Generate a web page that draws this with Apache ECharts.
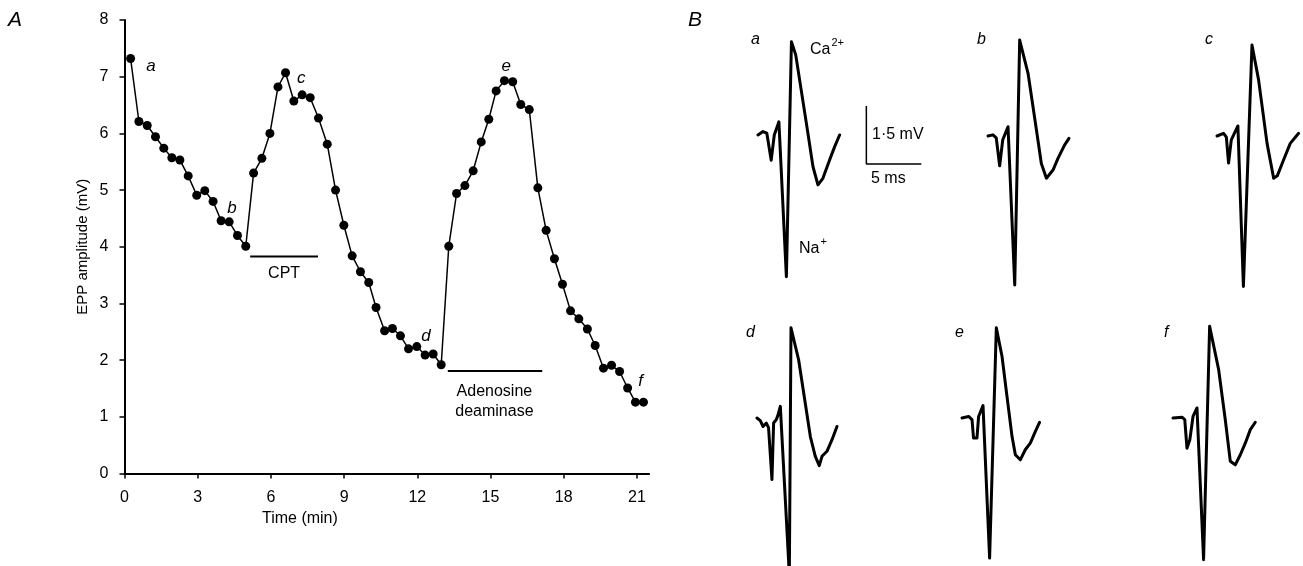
<!DOCTYPE html>
<html>
<head>
<meta charset="utf-8">
<title>EPP amplitude</title>
<script src="https://cdn.jsdelivr.net/npm/echarts@6/dist/echarts.min.js"></script>
<style>
  html, body { margin: 0; padding: 0; background: #fff; }
  #main { width: 1303px; height: 566px; }
</style>
</head>
<body>
<div id="main"></div>
<script>
// panel A: EPP amplitude against time
var timeMin = [0.25, 0.59, 0.93, 1.27, 1.61, 1.94, 2.27, 2.61, 2.96, 3.29, 3.63, 3.96, 4.29, 4.63, 4.97,
  5.29, 5.63, 5.96, 6.29, 6.6, 6.94, 7.28, 7.61, 7.95, 8.31, 8.65, 8.99, 9.33, 9.67, 10.01, 10.31,
  10.66, 10.98, 11.31, 11.64, 11.98, 12.32, 12.65, 12.98, 13.29, 13.61, 13.95, 14.29, 14.62, 14.93,
  15.23, 15.57, 15.91, 16.24, 16.59, 16.94, 17.28, 17.62, 17.95, 18.28, 18.62, 18.97, 19.29, 19.63,
  19.96, 20.29, 20.62, 20.94, 21.27];
var eppAmp = [7.32, 6.21, 6.14, 5.94, 5.74, 5.57, 5.53, 5.25, 4.91, 4.99, 4.80, 4.46, 4.44, 4.20, 4.01,
  5.30, 5.56, 6.00, 6.82, 7.07, 6.57, 6.68, 6.63, 6.27, 5.81, 5.00, 4.38, 3.84, 3.56, 3.37, 2.93,
  2.52, 2.56, 2.43, 2.20, 2.24, 2.09, 2.11, 1.92, 4.01, 4.94, 5.08, 5.34, 5.85, 6.25,
  6.75, 6.93, 6.91, 6.51, 6.42, 5.04, 4.29, 3.79, 3.34, 2.87, 2.73, 2.55, 2.26, 1.86,
  1.91, 1.80, 1.51, 1.26, 1.26];
var xTicks = [0, 3, 6, 9, 12, 15, 18, 21];

// drug application bars (min) and their level (mV)
var cptBar = [5.15, 7.93];
var cptLevel = 3.83;
var adaBar = [13.25, 17.12];
var adaLevel = 1.81;

// letters marking the sampled traces: [time, amplitude]
var markNames = ['a', 'b', 'c', 'd', 'e', 'f'];
var markPos = [[1.09, 7.19], [4.40, 4.68], [7.24, 6.97], [12.36, 2.43], [15.64, 7.19], [21.15, 1.62]];

// panel B: traces, [ms, mV] from the start of each sweep
var traceA = [[0, 0], [0.45, 0.09], [0.8, 0.05], [1.2, -0.65], [1.48, 0], [1.9, 0.34], [2.58, -3.66],
  [3.04, 2.41], [3.43, 2.07], [4.4, 0.3], [5.0, -0.82], [5.45, -1.29], [5.9, -1.12], [6.5, -0.65],
  [6.97, -0.3], [7.42, 0]];
var traceB = [[0, 0], [0.45, 0.03], [0.75, -0.05], [1.06, -0.77], [1.34, -0.1], [1.82, 0.24], [2.43, -3.85],
  [2.88, 2.48], [3.64, 1.62], [4.4, 0.16], [4.85, -0.71], [5.31, -1.09], [5.91, -0.88], [6.36, -0.58],
  [6.97, -0.23], [7.36, -0.06]];
var traceC = [[0, 0], [0.6, 0.07], [0.85, -0.03], [1.05, -0.7], [1.3, -0.1], [1.9, 0.26], [2.4, -3.89],
  [3.18, 2.35], [3.78, 1.45], [4.55, -0.19], [5.15, -1.09], [5.48, -1.03], [6.05, -0.62], [6.66, -0.19],
  [7.42, 0.07]];
var traceD = [[0, 0], [0.3, -0.07], [0.55, -0.22], [0.85, -0.13], [1.05, -0.25], [1.36, -1.59], [1.51, -0.13],
  [1.75, -0.04], [1.87, 0.04], [2.12, 0.3], [2.94, -4.05], [3.09, 2.33], [3.78, 1.51], [4.85, -0.48],
  [5.3, -0.99], [5.66, -1.23], [5.91, -0.99], [6.36, -0.86], [6.82, -0.56], [7.27, -0.22]];
var traceE = [[0, 0], [0.6, 0.04], [0.91, -0.04], [1.05, -0.52], [1.36, -0.52], [1.51, 0.04], [1.91, 0.32],
  [2.51, -3.62], [3.12, 2.33], [3.64, 1.59], [4.09, 0.56], [4.55, -0.48], [4.85, -0.95], [5.3, -1.08],
  [5.75, -0.82], [6.21, -0.65], [6.66, -0.35], [7.05, -0.11]];
var traceF = [[0, 0], [0.82, 0.02], [1.07, -0.04], [1.27, -0.78], [1.53, -0.56], [1.82, 0.04], [2.18, 0.26],
  [2.78, -3.66], [3.33, 2.37], [4.15, 1.25], [4.75, -0.04], [5.21, -1.12], [5.66, -1.21], [6.12, -0.95],
  [6.57, -0.65], [7.03, -0.3], [7.48, -0.11]];
var traces = [traceA, traceB, traceC, traceD, traceE, traceF];

// scale bar, drawn in trace a's coordinates: 1.5 mV by 5 ms
var scaleBar = [[9.85, 0.75], [9.85, -0.75], [14.85, -0.75]];

var FONT = '"Liberation Sans", Arial, Helvetica, sans-serif';
var chart = echarts.init(document.getElementById('main'));

// sweep origins on the page (px); each trace gets a hidden grid of equal scale
var origins = [[758, 135], [988, 136], [1217, 136], [757, 418], [962, 418], [1173, 418]];
var msMax = [16, 7.6, 7.6, 7.6, 7.6, 7.6];
var mvMin = [-4.6, -4.6, -4.6, -3.8, -3.8, -3.8];
var mvMax = 2.7;
var pxPerMs = 11, pxPerMv = 38.7;

var grids = [{ left: 124.5, top: 20, width: 21.5 * 24.4, height: 453.6 }];
var xAxes = [{
  type: 'value', gridIndex: 0, min: 0, max: 21.5,
  axisLine: { lineStyle: { color: '#000', width: 2 } },
  axisTick: { show: true, length: 5, lineStyle: { color: '#000', width: 1.5 }, customValues: xTicks },
  axisLabel: { color: '#000', fontSize: 16, fontFamily: FONT, margin: 16, customValues: xTicks },
  splitLine: { show: false }
}];
var yAxes = [{
  type: 'value', gridIndex: 0, min: 0, max: 8, interval: 1,
  name: 'EPP amplitude (mV)', nameLocation: 'middle', nameGap: 34,
  nameTextStyle: { color: '#000', fontSize: 15, fontFamily: FONT },
  axisLine: { lineStyle: { color: '#000', width: 2 } },
  axisTick: { show: true, length: 5, lineStyle: { color: '#000', width: 1.5 } },
  axisLabel: { color: '#000', fontSize: 16, fontFamily: FONT, margin: 16 },
  splitLine: { show: false }
}];

var series = [
  {
    type: 'line', xAxisIndex: 0, yAxisIndex: 0,
    data: timeMin.map(function (t, i) { return [t, eppAmp[i]]; }),
    symbol: 'circle', symbolSize: 9, showSymbol: true,
    itemStyle: { color: '#000' },
    lineStyle: { color: '#000', width: 1.5 },
    z: 3, animation: false
  },
  {
    type: 'line', xAxisIndex: 0, yAxisIndex: 0, symbol: 'none',
    data: [[cptBar[0], cptLevel], [cptBar[1], cptLevel]],
    lineStyle: { color: '#000', width: 2 }, animation: false
  },
  {
    type: 'line', xAxisIndex: 0, yAxisIndex: 0, symbol: 'none',
    data: [[adaBar[0], adaLevel], [adaBar[1], adaLevel]],
    lineStyle: { color: '#000', width: 2 }, animation: false
  },
  {
    type: 'scatter', xAxisIndex: 0, yAxisIndex: 0, symbolSize: 0,
    itemStyle: { opacity: 1 },
    data: [
      { value: [(cptBar[0] + cptBar[1]) / 2, 3.52], name: 'CPT' },
      { value: [15.16, 1.27], name: 'Adenosine\ndeaminase' }
    ],
    label: {
      show: true, position: 'inside', formatter: '{b}', color: '#000',
      fontSize: 16, fontFamily: FONT, lineHeight: 20, align: 'center'
    },
    silent: true, animation: false
  },
  {
    type: 'scatter', xAxisIndex: 0, yAxisIndex: 0, symbolSize: 0,
    itemStyle: { opacity: 1 },
    data: markNames.map(function (n, i) { return { value: markPos[i], name: n }; }),
    label: {
      show: true, position: 'inside', formatter: '{b}', color: '#000',
      fontSize: 17, fontStyle: 'italic', fontFamily: FONT
    },
    silent: true, animation: false
  }
];

traces.forEach(function (tr, i) {
  var o = origins[i];
  var gi = i + 1;
  grids.push({
    left: o[0],
    top: o[1] - mvMax * pxPerMv,
    width: msMax[i] * pxPerMs,
    height: (mvMax - mvMin[i]) * pxPerMv
  });
  xAxes.push({ type: 'value', gridIndex: gi, min: 0, max: msMax[i], show: false });
  yAxes.push({ type: 'value', gridIndex: gi, min: mvMin[i], max: mvMax, show: false });
  series.push({
    type: 'line', xAxisIndex: gi, yAxisIndex: gi, data: tr, symbol: 'none',
    lineStyle: { color: '#000', width: 3, join: 'round', cap: 'round' },
    animation: false
  });
});

series.push({
  type: 'line', xAxisIndex: 1, yAxisIndex: 1, data: scaleBar, symbol: 'none',
  lineStyle: { color: '#000', width: 1.5 }, animation: false
});

function txt(x, y, s, size, italic) {
  return {
    type: 'text', left: x, top: y, silent: true,
    style: { text: s, fill: '#000', fontSize: size, fontFamily: FONT, fontStyle: italic ? 'italic' : 'normal' }
  };
}

function ionText(x, y, base, sup) {
  return {
    type: 'text', left: x, top: y, silent: true,
    style: {
      text: '{m|' + base + '}{s|' + sup + '}', fill: '#000', fontFamily: FONT,
      rich: {
        m: { fontSize: 16, fontFamily: FONT },
        s: { fontSize: 11, fontFamily: FONT, padding: [0, 0, 14, 1] }
      }
    }
  };
}

var traceLetters = [[751, 32], [977, 32], [1205, 32], [746, 325], [955, 325], [1164, 325]];
var graphics = [
  txt(8, 10, 'A', 21, true),
  txt(688, 10, 'B', 21, true),
  txt(262, 511, 'Time (min)', 16, false),
  txt(872, 127, '1·5 mV', 16, false),
  txt(871, 171, '5 ms', 16, false),
  ionText(810, 37, 'Ca', '2+'),
  ionText(799, 236, 'Na', '+')
];
markNames.forEach(function (n, i) {
  graphics.push(txt(traceLetters[i][0], traceLetters[i][1], n, 16, true));
});

chart.setOption({
  backgroundColor: '#fff',
  animation: false,
  grid: grids,
  xAxis: xAxes,
  yAxis: yAxes,
  series: series,
  graphic: graphics
});
</script>
</body>
</html>
